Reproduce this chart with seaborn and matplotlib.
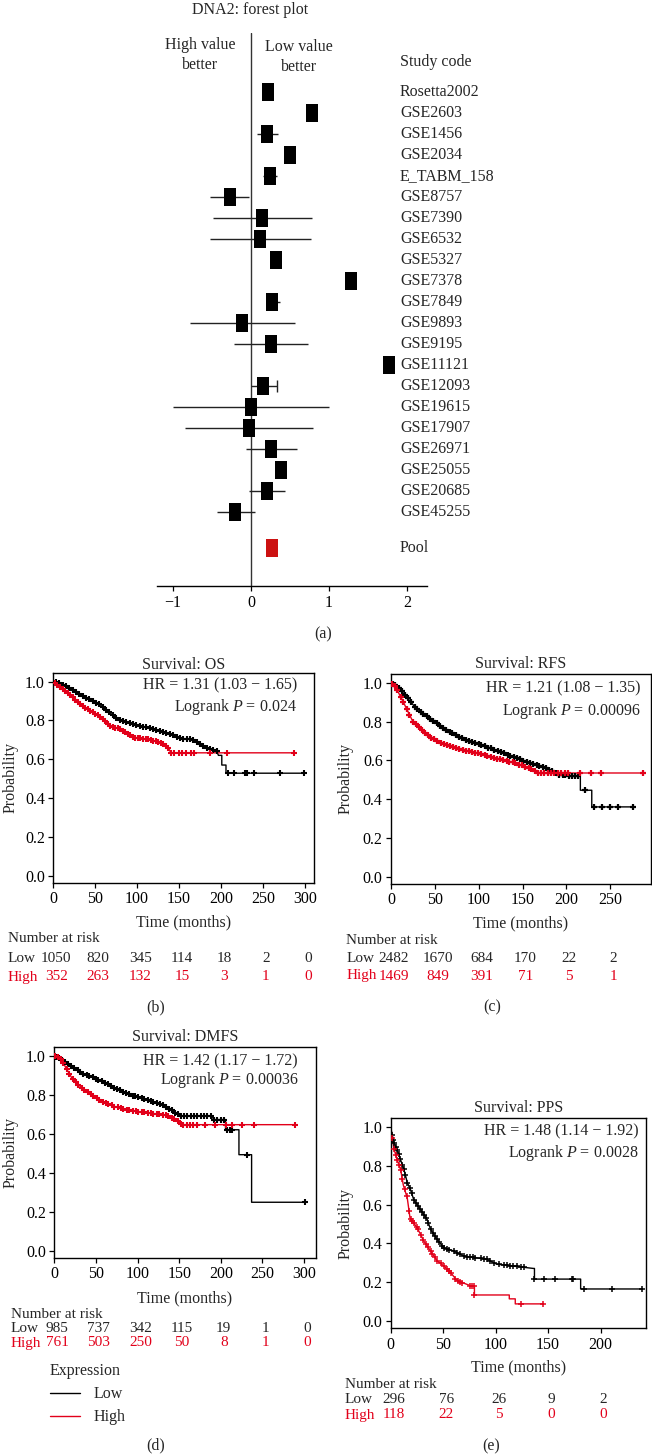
import numpy as np
import matplotlib
matplotlib.use("Agg")
import matplotlib.pyplot as plt
import matplotlib.transforms as mtrans
from matplotlib.lines import Line2D
import seaborn as sns

# ---------------- data: forest plot ----------------
studies = ["Rosetta2002", "GSE2603", "GSE1456", "GSE2034", "E_TABM_158", "GSE8757",
           "GSE7390", "GSE6532", "GSE5327", "GSE7378", "GSE7849", "GSE9893", "GSE9195",
           "GSE11121", "GSE12093", "GSE19615", "GSE17907", "GSE26971", "GSE25055",
           "GSE20685", "GSE45255"]
log_hr = [0.22, 0.78, 0.21, 0.50, 0.24, -0.27, 0.14, 0.12, 0.32, 1.28, 0.27, -0.11, 0.25,
          1.77, 0.16, 0.00, -0.03, 0.26, 0.38, 0.21, -0.20]
ci_low = [0.17, 0.73, 0.08, 0.45, 0.16, -0.52, -0.49, -0.52, 0.27, 1.23, 0.19, -0.78, -0.22,
          1.72, 0.00, -1.00, -0.85, -0.07, 0.33, -0.02, -0.44]
ci_high = [0.27, 0.83, 0.34, 0.55, 0.33, -0.02, 0.78, 0.77, 0.37, 1.33, 0.37, 0.56, 0.73,
           1.82, 0.33, 1.00, 0.80, 0.59, 0.43, 0.44, 0.05]
pool_value = 0.27
forest_ticks = [-1, 0, 1, 2]

# ---------------- data: Kaplan-Meier curves (time, probability knots) ----------------
os_low_t = [0, 8, 17, 36, 56, 66, 76, 87, 100, 116, 136, 152, 167, 175, 183, 195, 197, 201, 201, 206, 206, 300]
os_low_s = [1.0, 0.99, 0.974, 0.923, 0.88, 0.845, 0.81, 0.79, 0.775, 0.76, 0.734, 0.708, 0.70, 0.68, 0.657, 0.64, 0.62, 0.62, 0.57, 0.57, 0.528, 0.528]
os_high_t = [0, 5, 17, 25, 36, 48, 56, 68, 80, 96, 116, 130, 136, 139, 140, 287]
os_high_s = [1.0, 0.985, 0.943, 0.91, 0.871, 0.84, 0.82, 0.772, 0.755, 0.713, 0.70, 0.68, 0.665, 0.645, 0.633, 0.633]
os_low_c = [3, 7, 11, 15, 19, 23, 27, 31, 35, 39, 43, 47, 51, 55, 59, 63, 67, 71, 75, 79, 83, 87, 91, 95, 99,
            103, 107, 111, 115, 119, 123, 127, 131, 135, 139, 143, 147, 151, 155, 159, 163, 167, 171, 175,
            179, 183, 187, 191, 195, 209, 215, 229, 231, 239, 271, 299]
os_high_c = [2, 5, 8, 11, 14, 17, 20, 23, 26, 29, 32, 35, 38, 41, 44, 47, 50, 53, 56, 59, 62, 65, 68, 71, 74,
             77, 80, 83, 86, 89, 92, 95, 98, 101, 104, 107, 110, 113, 116, 119, 122, 125, 128, 131, 134, 137,
             140, 144, 150, 154, 158, 164, 168, 187, 207, 287]

rfs_low_t = [0, 8, 18, 28, 44.5, 63.5, 82.5, 101.6, 120.6, 139.6, 158.7, 177.7, 193, 216, 216, 229, 229, 277]
rfs_low_s = [1.0, 0.98, 0.926, 0.872, 0.815, 0.755, 0.712, 0.68, 0.652, 0.618, 0.584, 0.558, 0.523, 0.52, 0.446, 0.446, 0.36, 0.36]
rfs_high_t = [0, 5, 12, 25, 44.5, 63.5, 82.5, 101.6, 120.6, 139.6, 158.7, 166, 170, 287]
rfs_high_s = [1.0, 0.98, 0.92, 0.80, 0.72, 0.678, 0.652, 0.635, 0.61, 0.589, 0.558, 0.54, 0.535, 0.535]
rfs_low_c = [2, 5, 9, 12, 16, 19, 23, 27, 30, 34, 37, 41, 45, 48, 52, 56, 59, 63, 67, 70, 74, 78, 81, 85, 89,
             92, 96, 100, 103, 107, 111, 114, 118, 122, 125, 129, 133, 136, 140, 144, 147, 151, 155, 158, 162,
             166, 169, 173, 177, 180, 184, 188, 192, 196, 199, 203, 206, 210, 213, 221, 231, 241, 250, 259, 276]
rfs_high_c = [1, 4, 7, 11, 14, 18, 21, 25, 28, 32, 35, 39, 42, 46, 49, 53, 57, 60, 64, 67, 71, 74, 78, 82, 85,
              89, 92, 96, 99, 103, 107, 110, 114, 117, 121, 124, 128, 132, 135, 139, 142, 146, 149, 153, 157,
              160, 164, 168, 171, 175, 179, 183, 186, 190, 194, 198, 202, 216, 228, 239, 287]

dmfs_low_t = [0, 13, 33, 53, 73, 93, 113, 133.6, 145.6, 153.6, 190, 191, 205.7, 205.7, 221.8, 221.8, 237, 237, 301]
dmfs_low_s = [1.0, 0.97, 0.911, 0.877, 0.834, 0.795, 0.774, 0.74, 0.706, 0.689, 0.689, 0.672, 0.672, 0.62, 0.62, 0.492, 0.492, 0.248, 0.248]
dmfs_high_t = [0, 8, 13, 21, 33, 45, 53, 73, 93, 113, 133.6, 145.6, 152.8, 289]
dmfs_high_s = [1.0, 0.985, 0.945, 0.886, 0.834, 0.80, 0.774, 0.737, 0.718, 0.706, 0.694, 0.675, 0.646, 0.646]
dmfs_low_c = [2, 6, 9, 13, 17, 20, 24, 28, 31, 35, 39, 42, 46, 50, 53, 57, 61, 64, 68, 72, 75, 79, 83, 86, 90,
              94, 97, 101, 105, 108, 112, 116, 119, 123, 127, 130, 134, 138, 141, 145, 149, 152, 156, 160, 164,
              168, 172, 176, 180, 184, 188, 192, 196, 200, 204, 207, 211, 214, 232, 301]
dmfs_high_c = [1, 4, 8, 11, 15, 18, 22, 26, 29, 33, 36, 40, 44, 47, 51, 54, 58, 62, 65, 69, 72, 76, 80, 83, 87,
               90, 94, 98, 101, 105, 108, 112, 116, 119, 123, 126, 130, 134, 137, 141, 144, 148, 152, 155, 159,
               163, 167, 171, 181, 193, 206, 214, 226, 240, 289]

pps_low_t = [0, 1, 3, 6.3, 9.5, 12.7, 15.8, 19, 22, 28.5, 34.8, 38, 44.3, 50.6, 60, 69.6, 91.8, 101, 136, 137, 137, 181, 181, 239]
pps_low_s = [1.0, 0.97, 0.923, 0.88, 0.83, 0.78, 0.714, 0.676, 0.625, 0.574, 0.523, 0.472, 0.42, 0.378, 0.361, 0.335, 0.318, 0.293, 0.271, 0.271, 0.216, 0.216, 0.165, 0.165]
pps_high_t = [0, 1.5, 3, 6.3, 9.5, 12, 15.8, 18.4, 25.3, 31.6, 38, 44.3, 50.6, 57, 63.3, 76, 79.8, 79.8, 113, 113, 118.7, 118.7, 145.6]
pps_high_s = [1.0, 0.949, 0.89, 0.83, 0.78, 0.702, 0.634, 0.532, 0.48, 0.412, 0.361, 0.31, 0.284, 0.25, 0.208, 0.182, 0.182, 0.134, 0.134, 0.114, 0.114, 0.088, 0.088]
pps_low_c = [1.5, 2.5, 3.5, 5, 6, 7.5, 9, 11, 12.5, 14, 16, 18, 20, 22, 24, 26, 28, 30, 32, 34, 36, 38, 40, 42,
             44, 46, 49, 51, 54, 56, 60, 63, 66, 70, 73, 76, 78, 80, 86, 89, 92, 95, 98, 103, 108, 111, 114,
             117, 120, 124, 127, 137, 146, 157, 173, 174, 184, 211, 239]
pps_high_c = [1.6, 3.2, 4.8, 6.3, 7.9, 9.5, 11, 13.3, 15.2, 17.5, 19, 20.6, 22, 24.7, 26, 28.5, 31, 33.2, 35.5,
              38, 39.6, 41.8, 44.3, 47.5, 50.6, 53.2, 55.4, 57.6, 61.7, 64, 66.5, 68, 76, 77.6, 79.1, 79.8, 124, 145.6]

# risk tables
os_risk_low = [1050, 820, 345, 114, 18, 2, 0]
os_risk_high = [352, 263, 132, 15, 3, 1, 0]
rfs_risk_low = [2482, 1670, 684, 170, 22, 2]
rfs_risk_high = [1469, 849, 391, 71, 5, 1]
dmfs_risk_low = [985, 737, 342, 115, 19, 1, 0]
dmfs_risk_high = [761, 503, 250, 50, 8, 1, 0]
pps_risk_low = [296, 76, 26, 9, 2]
pps_risk_high = [118, 22, 5, 0, 0]

# ---------------- style ----------------
sns.set_theme(style="ticks")
plt.rcParams["font.family"] = ["Liberation Serif", "DejaVu Serif"]
plt.rcParams["mathtext.fontset"] = "custom"
plt.rcParams["mathtext.rm"] = "Liberation Serif"
plt.rcParams["mathtext.it"] = "Liberation Serif:italic"
plt.rcParams["axes.unicode_minus"] = True

RED = "#e2001a"
POOL_RED = "#cc1111"
FS = 11.5

W, H = 652, 1454
fig = plt.figure(figsize=(W / 100, H / 100), dpi=100)


def fx(px):
    return px / W


def fy(py):
    return 1 - py / H


def add_ax(x0, y0, x1, y1):
    return fig.add_axes([x0 / W, 1 - y1 / H, (x1 - x0) / W, (y1 - y0) / H])


def ftext(px, py, s, **kw):
    kw.setdefault("va", "center")
    kw.setdefault("fontsize", FS)
    fig.text(fx(px), fy(py), s, **kw)


# ---------------- panel (a): forest plot ----------------
ax = add_ax(157, 33, 427, 586)
ypix0, ystep = 92, 21.0
row_y = [i for i in range(len(studies))]
pool_row = (548 - ypix0) / ystep
ax.set_ylim((586 - ypix0) / ystep, (33 - ypix0) / ystep)
ax.set_xlim(-1.205, 2.256)
ax.axvline(0, color="#333333", lw=1.0, zorder=1)
ax.hlines(row_y, ci_low, ci_high, color="#222222", lw=1.0, zorder=2)
ax.vlines([ci_high[14]], [row_y[14] - 0.3], [row_y[14] + 0.3], color="#222222", lw=1.0)
box = [(-0.36, -0.5), (0.36, -0.5), (0.36, 0.5), (-0.36, 0.5), (-0.36, -0.5)]
sns.scatterplot(x=log_hr, y=row_y, marker=box, s=150, color="black", linewidth=0, ax=ax, zorder=3)
sns.scatterplot(x=[pool_value], y=[pool_row], marker=box, s=150, color=POOL_RED, linewidth=0, ax=ax, zorder=3)
for r, name in zip(row_y, studies):
    ax.text(1.91, r, name, ha="left", va="center", fontsize=FS)
ax.text(1.91, pool_row, "Pool", ha="left", va="center", fontsize=FS)
ax.text(-0.654, (55 - ypix0) / ystep, "High value\nbetter", ha="center", va="center", fontsize=FS, linespacing=1.3)
ax.text(0.615, (57 - ypix0) / ystep, "Low value\nbetter", ha="center", va="center", fontsize=FS, linespacing=1.3)
ax.text(1.91, (62 - ypix0) / ystep, "Study code", ha="left", va="center", fontsize=FS)
ax.set_xticks(forest_ticks)
ax.set_xticklabels(["\u22121", "0", "1", "2"])
ax.set_yticks([])
for sp in ["top", "left", "right"]:
    ax.spines[sp].set_visible(False)
ax.spines["bottom"].set_color("black")
ax.spines["bottom"].set_linewidth(1.0)
ax.tick_params(axis="x", length=3.5, width=0.9, pad=3, labelsize=FS, colors="black")
ax.set_xlabel("")
ax.set_ylabel("")
ax.set_facecolor("none")
ftext(250, 10, "DNA2: forest plot", ha="center")
ftext(323, 634, "(a)", ha="center")


# ---------------- KM panels ----------------
def km_panel(spec):
    x0, y0, x1, y1 = spec["box"]
    a = add_ax(x0, y0, x1, y1)
    ms, mlw = spec["mark"]
    for t, s, c, col in [(spec["lt"], spec["ls"], spec["lc"], "black"),
                         (spec["ht"], spec["hs"], spec["hc"], RED)]:
        sns.lineplot(x=t, y=s, sort=False, estimator=None, color=col, lw=1.0, ax=a)
        cy = np.interp(c, t, s)
        sns.scatterplot(x=c, y=cy, marker="+", s=ms, color=col, linewidth=mlw, ax=a, zorder=3)
    a.set_xlim(*spec["xlim"])
    a.set_ylim(-0.038, 1.046)
    a.set_xticks(spec["xticks"])
    a.set_yticks([0.0, 0.2, 0.4, 0.6, 0.8, 1.0])
    a.set_yticklabels(["0.0", "0.2", "0.4", "0.6", "0.8", "1.0"])
    a.tick_params(length=3.5, width=0.9, pad=2.5, labelsize=FS, colors="black")
    for sp in a.spines.values():
        sp.set_color("black")
        sp.set_linewidth(1.0)
    a.set_xlabel("")
    a.set_ylabel("")
    cx = (x0 + x1) / 2
    ftext(cx, spec["title_y"], spec["title"], ha="center")
    ftext(spec["hr_x"], spec["hr_y"], spec["hr"], ha="right")
    ftext(spec["hr_x"], spec["lr_y"], "Logrank $\\it{P}$ = " + spec["p"], ha="right")
    ftext(spec["ylab_x"], (y0 + y1) / 2, "Probability", ha="center", rotation=90)
    ftext(cx, spec["xlabel_y"], "Time (months)", ha="center")
    ftext(spec["nar_x"], spec["nar_y"], "Number at risk", ha="left", fontsize=11)
    ftext(spec["nar_x"], spec["low_y"], "Low", ha="left", fontsize=11)
    ftext(spec["nar_x"], spec["high_y"], "High", ha="left", fontsize=11, color=RED)
    tr = mtrans.blended_transform_factory(a.transData, fig.transFigure) + \
        mtrans.ScaledTranslation(3 / 100, 0, fig.dpi_scale_trans)
    for tt, nl, nh in zip(spec["xticks"], spec["rl"], spec["rh"]):
        a.text(tt, fy(spec["low_y"]), str(nl), transform=tr, ha="center", va="center", fontsize=11, clip_on=False)
        a.text(tt, fy(spec["high_y"]), str(nh), transform=tr, ha="center", va="center", fontsize=11,
               color=RED, clip_on=False)
    ftext(spec["lab"][0], spec["lab"][1], spec["lab"][2], ha="center")
    return a


specs = [
    dict(box=(53.3, 672.7, 314, 883), xlim=(0, 311), xticks=[0, 50, 100, 150, 200, 250, 300],
         lt=os_low_t, ls=os_low_s, lc=os_low_c, ht=os_high_t, hs=os_high_s, hc=os_high_c,
         title="Survival: OS", hr="HR = 1.31 (1.03 \u2212 1.65)", p="0.024",
         title_y=665, hr_x=297, hr_y=685, lr_y=707, ylab_x=11, xlabel_y=922,
         nar_x=8, nar_y=938, low_y=958, high_y=977, rl=os_risk_low, rh=os_risk_high,
         lab=(155.7, 1007, "(b)"), mark=(18, 1.5)),
    dict(box=(391, 674, 650.5, 884), xlim=(0, 296), xticks=[0, 50, 100, 150, 200, 250],
         lt=rfs_low_t, ls=rfs_low_s, lc=rfs_low_c, ht=rfs_high_t, hs=rfs_high_s, hc=rfs_high_c,
         title="Survival: RFS", hr="HR = 1.21 (1.08 \u2212 1.35)", p="0.00096",
         title_y=664, hr_x=640, hr_y=688, lr_y=711, ylab_x=346, xlabel_y=923,
         nar_x=346.5, nar_y=940, low_y=958, high_y=976, rl=rfs_risk_low, rh=rfs_risk_high,
         lab=(492, 1007, "(c)"), mark=(18, 1.6)),
    dict(box=(54.3, 1046.7, 315.7, 1258), xlim=(0, 314), xticks=[0, 50, 100, 150, 200, 250, 300],
         lt=dmfs_low_t, ls=dmfs_low_s, lc=dmfs_low_c, ht=dmfs_high_t, hs=dmfs_high_s, hc=dmfs_high_c,
         title="Survival: DMFS", hr="HR = 1.42 (1.17 \u2212 1.72)", p="0.00036",
         title_y=1036.7, hr_x=298, hr_y=1061.7, lr_y=1080, ylab_x=11, xlabel_y=1298,
         nar_x=10.7, nar_y=1314, low_y=1328, high_y=1343, rl=dmfs_risk_low, rh=dmfs_risk_high,
         lab=(155.7, 1445, "(d)"), mark=(18, 1.5)),
    dict(box=(390.7, 1118.3, 645.7, 1328.3), xlim=(0, 243), xticks=[0, 50, 100, 150, 200],
         lt=pps_low_t, ls=pps_low_s, lc=pps_low_c, ht=pps_high_t, hs=pps_high_s, hc=pps_high_c,
         title="Survival: PPS", hr="HR = 1.48 (1.14 \u2212 1.92)", p="0.0028",
         title_y=1108.3, hr_x=638.3, hr_y=1131.7, lr_y=1153.3, ylab_x=346, xlabel_y=1367.3,
         nar_x=345, nar_y=1384, low_y=1399.3, high_y=1415, rl=pps_risk_low, rh=pps_risk_high,
         lab=(490.7, 1446.7, "(e)"), mark=(22, 1.1)),
]
for sp in specs:
    km_panel(sp)

# legend (panel d)
handles = [Line2D([], [], color="black", lw=1.0), Line2D([], [], color=RED, lw=1.0)]
leg = fig.legend(handles, ["Low", "High"], title="Expression", loc="upper left",
                 bbox_to_anchor=(fx(50), fy(1363)), frameon=False, fontsize=FS, title_fontsize=FS,
                 handlelength=1.9, handletextpad=0.8, labelspacing=0.45, borderpad=0, borderaxespad=0,
                 alignment="left")

fig.savefig("out.png", dpi=100)
